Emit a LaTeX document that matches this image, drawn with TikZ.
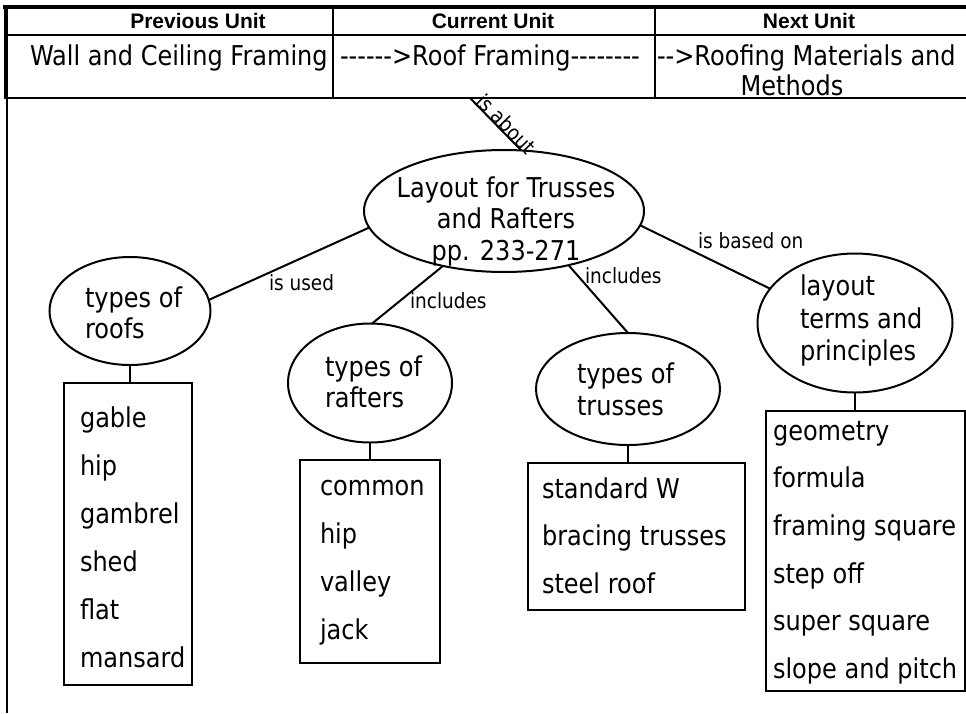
\documentclass[tikz,border=0pt]{standalone}
\usepackage{fontspec}
\setmainfont{DejaVu Sans}[FakeStretch=0.88]
\newfontfamily\headfont{Liberation Sans}
\usetikzlibrary{shapes.geometric}
\newcommand\dsh{-\kern0pt}
\begin{document}
\begin{tikzpicture}[x=1pt,y=-1pt,
  every node/.style={inner sep=0pt,outer sep=0pt},
  conn/.style={line width=2pt},
  tbl/.style={line width=2.5pt},
  tblthick/.style={line width=4pt},
  oval/.style={draw,ellipse,line width=2pt,inner sep=0pt},
  listbox/.style={draw,rectangle,line width=2pt},
  txt/.style={font=\fontsize{27.3}{30}\selectfont,anchor=base west},
  ctxt/.style={font=\fontsize{27.3}{30}\selectfont,anchor=base},
  lbl/.style={font=\fontsize{21}{24}\selectfont,anchor=base west},
  head/.style={font=\headfont\bfseries\fontsize{21}{24}\selectfont,anchor=base}]
\useasboundingbox (0,0) rectangle (966,713);
\fill[white] (0,0) rectangle (966,713);

% table
\draw[tblthick] (3,7) -- (966,7);
\draw[tblthick] (5.5,5) -- (5.5,99);
\draw[tbl] (5,35) -- (966,35);
\draw[tbl] (333,7) -- (333,98);
\draw[tbl] (655,7) -- (655,98);
\draw[tbl] (5,98) -- (966,98);
\draw[conn] (7,98) -- (7,713);

\node[head] (hprev) at (198,28) {Previous Unit};
\node[head] (hcur) at (493,28) {Current Unit};
\node[head] (hnext) at (809,28) {Next Unit};

\node[txt] (prev) at (30,65) {Wall and Ceiling Framing};
\node[txt] (cur) at (340,65) {\dsh\dsh\dsh\dsh\dsh\dsh>Roof Framing\dsh\dsh\dsh\dsh\dsh\dsh\dsh\dsh};
\node[txt] (next) at (657,65) {\dsh\dsh>Roofing Materials and};
\node[ctxt] (next2) at (792,95) {Methods};

% ellipses
\node[oval,minimum width=280,minimum height=122] (main) at (504,211) {};
\node[oval,minimum width=161,minimum height=108] (roofs) at (130,311) {};
\node[oval,minimum width=164,minimum height=119] (rafters) at (370,383) {};
\node[oval,minimum width=184,minimum height=112] (trusses) at (628,389) {};
\node[oval,minimum width=195,minimum height=139] (layout) at (855,323) {};

\node[ctxt] (m1) at (506,197) {Layout for Trusses};
\node[ctxt] (m2) at (506,228) {and Rafters};
\node[ctxt] (m3) at (506,260) {pp. 233-271};

\node[txt] (ro1) at (85,307) {types of};
\node[txt] (ro2) at (85,338) {roofs};
\node[txt] (ra1) at (325,376) {types of};
\node[txt] (ra2) at (325,407) {rafters};
\node[txt] (tr1) at (577,383) {types of};
\node[txt] (tr2) at (577,415) {trusses};
\node[txt] (la1) at (800,295) {layout};
\node[txt] (la2) at (800,328) {terms and};
\node[txt] (la3) at (800,360) {principles};

% boxes
\node[listbox,minimum width=128,minimum height=302] (rbox) at (128,534) {};
\node[listbox,minimum width=140,minimum height=203] (fbox) at (370,561.5) {};
\node[listbox,minimum width=217,minimum height=147] (tbox) at (636.5,536.5) {};
\node[listbox,minimum width=199,minimum height=280] (lbox) at (865.5,551) {};

\node[txt] (r1) at (80,427) {gable};
\node[txt] (r2) at (80,475) {hip};
\node[txt] (r3) at (80,523) {gambrel};
\node[txt] (r4) at (80,571) {shed};
\node[txt] (r5) at (80,619) {flat};
\node[txt] (r6) at (80,667) {mansard};

\node[txt] (f1) at (320,495) {common};
\node[txt] (f2) at (320,543) {hip};
\node[txt] (f3) at (320,591) {valley};
\node[txt] (f4) at (320,639) {jack};

\node[txt] (t1) at (542,498) {standard W};
\node[txt] (t2) at (542,545) {bracing trusses};
\node[txt] (t3) at (542,593) {steel roof};

\node[txt] (l1) at (773,440) {geometry};
\node[txt] (l2) at (773,487) {formula};
\node[txt] (l3) at (773,535) {framing square};
\node[txt] (l4) at (773,583) {step off};
\node[txt] (l5) at (773,630) {super square};
\node[txt] (l6) at (773,678) {slope and pitch};

% stems
\draw[conn] (roofs.south) -- (roofs.south |- rbox.north);
\draw[conn] (rafters.south) -- (rafters.south |- fbox.north);
\draw[conn] (trusses.south) -- (trusses.south |- tbox.north);
\draw[conn] (layout.south) -- (layout.south |- lbox.north);

% connectors
\coordinate (about) at (470,98);
\draw[conn] (about) -- (main.74)
  node[sloped,pos=0.6,anchor=base,font=\fontsize{21}{24}\selectfont] (labout) {is about};
\draw[conn] (roofs.8) -- (main.187);
\draw[conn] (main.222) -- (rafters.88);
\draw[conn] (main.320) -- (trusses.90);
\draw[conn] (main.354) -- (layout.158);

\node[lbl] (lused) at (269,290) {is used};
\node[lbl] (linc1) at (410,308) {includes};
\node[lbl] (linc2) at (585,283) {includes};
\node[lbl] (lbased) at (698,248) {is based on};
\end{tikzpicture}
\end{document}
